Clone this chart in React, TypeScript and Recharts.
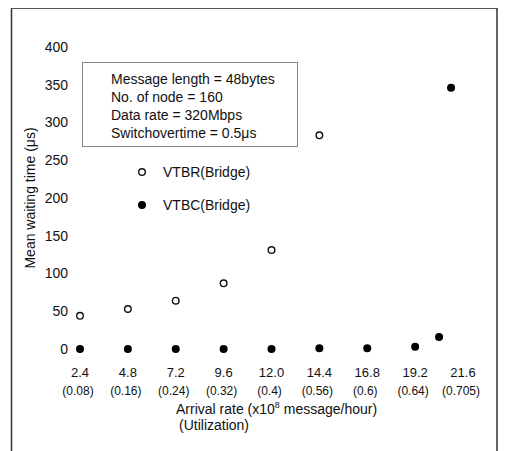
import React from "react";
import { ScatterChart, Scatter, XAxis, YAxis } from "recharts";

// arrival rate ticks (x10^8 message/hour) and utilization under each
const arrivalTicks = [2.4, 4.8, 7.2, 9.6, 12.0, 14.4, 16.8, 19.2, 21.6];
const utilLabels = ["(0.08)", "(0.16)", "(0.24)", "(0.32)", "(0.4)", "(0.56)", "(0.6)", "(0.64)", "(0.705)"];
const waitTicks = [0, 50, 100, 150, 200, 250, 300, 350, 400];

// VTBR(Bridge) - open circles
const vtbrRate = [2.4, 4.8, 7.2, 9.6, 12.0, 14.4];
const vtbrWait = [44, 53, 64, 87, 131, 283];

// VTBC(Bridge) - filled circles
const vtbcRate = [2.4, 4.8, 7.2, 9.6, 12.0, 14.4, 16.8, 19.2, 20.4, 21.0];
const vtbcWait = [0, 0, 0, 0, 0, 1, 1, 3, 16, 346];

const infoLines = [
  "Message length = 48bytes",
  "No. of node = 160",
  "Data rate = 320Mbps",
  "Switchovertime = 0.5\u03bcs",
];

const FONT = "'Liberation Sans', Arial, Helvetica, sans-serif";

const vtbrData = vtbrRate.map((x, i) => ({ x, y: vtbrWait[i] }));
const vtbcData = vtbcRate.map((x, i) => ({ x, y: vtbcWait[i] }));

const OpenDot = (props: any) => (
  <circle cx={props.cx} cy={props.cy} r={3.3} fill="#fff" stroke="#111" strokeWidth={1.4} />
);
const FilledDot = (props: any) => <circle cx={props.cx} cy={props.cy} r={4} fill="#000" />;

const XTick = (props: any) => {
  const { x, y, payload, index } = props;
  return (
    <g>
      <text x={x} y={y + 28} textAnchor="middle" fontSize={13} fill="#111" fontFamily={FONT}>
        {Number(payload.value).toFixed(1)}
      </text>
      <text x={x - 2} y={y + 46} textAnchor="middle" fontSize={12} fill="#111" fontFamily={FONT}>
        {utilLabels[index]}
      </text>
    </g>
  );
};

export default function App() {
  return (
    <div style={{ position: "absolute", left: 0, top: 0, width: 505, height: 451, background: "#fff" }}>
      <ScatterChart width={505} height={451} margin={{ top: 47, right: 42, left: 20, bottom: 72 }}>
        {/* scanned frame */}
        <line x1={11.5} y1={8} x2={11.5} y2={451} stroke="#333" strokeWidth={1.5} />
        <line x1={11} y1={8.5} x2={497} y2={8.5} stroke="#555" strokeWidth={1} />
        <line x1={497} y1={8} x2={497} y2={451} stroke="#333" strokeWidth={1.5} />

        <XAxis
          type="number"
          dataKey="x"
          domain={[2.4, 21.6]}
          ticks={arrivalTicks}
          axisLine={false}
          tickLine={false}
          tickSize={0}
          tickMargin={0}
          height={30}
          tick={XTick}
          interval={0}
        />
        <YAxis
          type="number"
          dataKey="y"
          domain={[0, 400]}
          ticks={waitTicks}
          axisLine={false}
          tickLine={false}
          tickSize={0}
          tickMargin={12}
          width={60}
          tick={{ fontSize: 14, fill: "#111", fontFamily: FONT }}
          label={{
            value: "Mean waiting time (\u03bcs)",
            angle: -90,
            position: "insideLeft",
            offset: 10,
            style: { fontSize: 14, fill: "#111", fontFamily: FONT, textAnchor: "middle" },
          }}
        />

        {/* parameter box */}
        <rect x={82.5} y={62.5} width={215} height={84} fill="#fff" stroke="#888" strokeWidth={1} />
        {infoLines.map((t, i) => (
          <text key={t} x={111} y={84 + i * 18} fontSize={14} fill="#111" fontFamily={FONT}>
            {t}
          </text>
        ))}

        {/* series key */}
        <circle cx={142} cy={172} r={3.3} fill="#fff" stroke="#111" strokeWidth={1.4} />
        <text x={163} y={177} fontSize={14} fill="#111" fontFamily={FONT}>VTBR(Bridge)</text>
        <circle cx={142} cy={205} r={4} fill="#000" />
        <text x={163} y={210} fontSize={14} fill="#111" fontFamily={FONT}>VTBC(Bridge)</text>

        <text x={176} y={414} fontSize={14} fill="#111" fontFamily={FONT}>
          Arrival rate (x10
          <tspan fontSize={9} dy={-6}>8</tspan>
          <tspan dy={6}> message/hour)</tspan>
        </text>
        <text x={179} y={430} fontSize={14} fill="#111" fontFamily={FONT}>
          (Utilization)
        </text>

        <Scatter name="VTBR(Bridge)" data={vtbrData} shape={<OpenDot />} isAnimationActive={false} />
        <Scatter name="VTBC(Bridge)" data={vtbcData} shape={<FilledDot />} isAnimationActive={false} />
      </ScatterChart>
    </div>
  );
}
